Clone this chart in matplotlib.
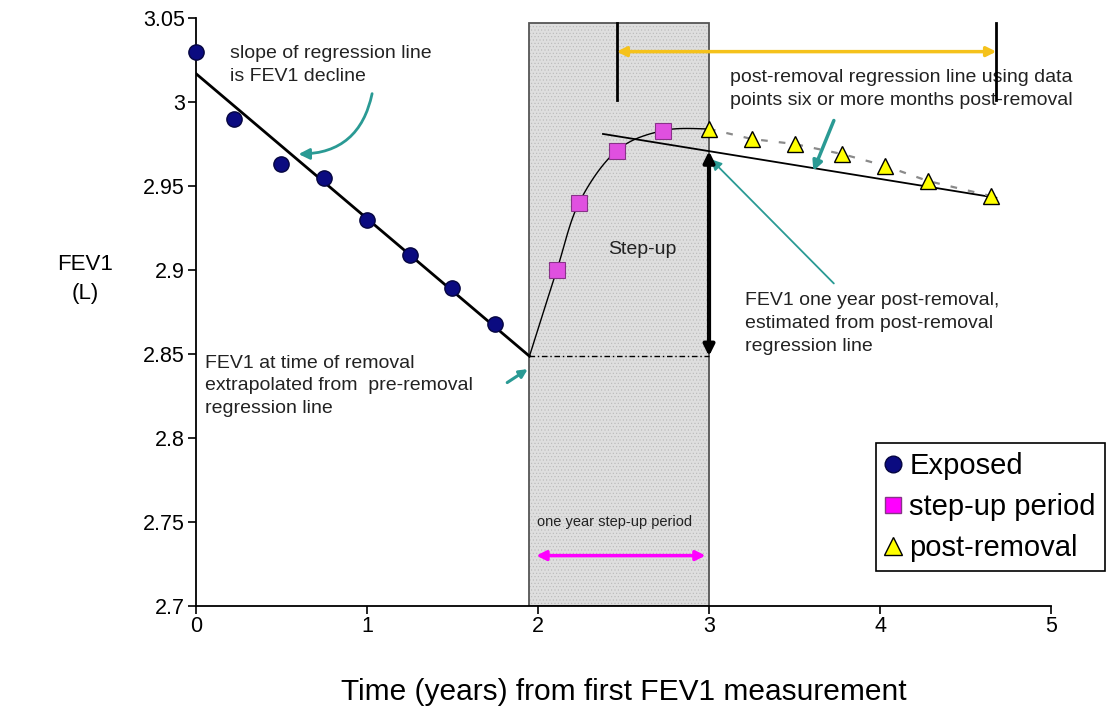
import matplotlib
matplotlib.use('Agg')
import matplotlib.pyplot as plt
from matplotlib.patches import Rectangle
from matplotlib.lines import Line2D
import numpy as np

plt.rcParams['font.family'] = ['Liberation Sans', 'DejaVu Sans']
plt.rcParams['hatch.linewidth'] = 0.4

# Data
exposed_t = [0.0, 0.22, 0.5, 0.75, 1.0, 1.25, 1.5, 1.75]
exposed_fev1 = [3.030, 2.990, 2.963, 2.955, 2.930, 2.909, 2.889, 2.868]

stepup_t = [2.11, 2.24, 2.46, 2.73]
stepup_fev1 = [2.900, 2.940, 2.971, 2.983]

post_t = [3.0, 3.25, 3.5, 3.78, 4.03, 4.28, 4.65]
post_fev1 = [2.984, 2.978, 2.975, 2.969, 2.962, 2.953, 2.944]

removal_t = 1.95
stepup_end_t = 3.0
box_top = 3.047

post_reg_t = [2.38, 4.68]
post_reg_fev1 = [2.981, 2.943]

followup_t = [2.46, 4.68]
followup_fev1 = 3.03
bracket_fev1 = [3.001, 3.047]

stepup_arrow_t = [1.99, 2.98]
stepup_arrow_fev1 = 2.73

x_ticks = [0, 1, 2, 3, 4, 5]
y_ticks = [2.7, 2.75, 2.8, 2.85, 2.9, 2.95, 3.0, 3.05]
y_ticklabels = ['2.7', '2.75', '2.8', '2.85', '2.9', '2.95', '3', '3.05']

teal = '#2a9a94'
pink = '#e050e0'


def smooth(xs, ys, n=25):
    # catmull-rom through the points, like excel's smoothed line
    p = np.column_stack([xs, ys])
    p = np.vstack([p[0], p, p[-1]])
    out = []
    for i in range(1, len(p) - 2):
        p0, p1, p2, p3 = p[i - 1], p[i], p[i + 1], p[i + 2]
        for s in np.linspace(0, 1, n, endpoint=False):
            out.append(0.5 * (2 * p1 + (-p0 + p2) * s
                              + (2 * p0 - 5 * p1 + 4 * p2 - p3) * s ** 2
                              + (-p0 + 3 * p1 - 3 * p2 + p3) * s ** 3))
    out.append(p[-2])
    out = np.array(out)
    return out[:, 0], out[:, 1]


fig = plt.figure(figsize=(11.06, 7.21), dpi=100)
ax = fig.add_axes([0.1772, 0.1595, 0.7731, 0.8155])
ax.set_xlim(0, 5)
ax.set_ylim(2.7, 3.05)

# step-up period box
ax.add_patch(Rectangle((removal_t, 2.7), stepup_end_t - removal_t, box_top - 2.7,
                       facecolor='#dedede', edgecolor='#b8b8b8', hatch='.....',
                       lw=0, zorder=0))
ax.add_patch(Rectangle((removal_t, 2.7), stepup_end_t - removal_t, box_top - 2.7,
                       facecolor='none', edgecolor='#555555', lw=1.3, zorder=1))

# pre-removal regression
coef = np.polyfit(exposed_t, exposed_fev1, 1)
fev1_at_removal = np.polyval(coef, removal_t)
ax.plot([0, removal_t], np.polyval(coef, [0, removal_t]), color='black', lw=2, zorder=3)

# step-up curve
cx, cy = smooth([removal_t] + stepup_t + [post_t[0]],
                [fev1_at_removal] + stepup_fev1 + [post_fev1[0]])
ax.plot(cx, cy, color='black', lw=1, zorder=3)

# post-removal regression and trend through triangles
ax.plot(post_reg_t, post_reg_fev1, color='black', lw=1.3, zorder=3)
ax.plot(post_t, post_fev1, color='#8a8a8a', lw=1.6, ls=(0, (3, 5)), zorder=3)

# horizontal reference at removal FEV1
ax.plot([removal_t, stepup_end_t], [fev1_at_removal, fev1_at_removal],
        color='black', lw=1, ls=(0, (4, 2, 1, 2)), zorder=3)

# step-up arrow
post_at_end = np.interp(stepup_end_t, post_reg_t, post_reg_fev1)
ax.annotate('', xy=(stepup_end_t, fev1_at_removal), xytext=(stepup_end_t, post_at_end),
            arrowprops=dict(arrowstyle='<|-|>', lw=3, color='black',
                            mutation_scale=16, shrinkA=0, shrinkB=0), zorder=4)

# yellow follow-up bracket
for t in followup_t:
    ax.plot([t, t], bracket_fev1, color='black', lw=2, clip_on=False, zorder=4)
ax.annotate('', xy=(followup_t[0], followup_fev1), xytext=(followup_t[1], followup_fev1),
            arrowprops=dict(arrowstyle='<|-|>', lw=2.5, color='#f5c21b',
                            mutation_scale=14, shrinkA=0, shrinkB=0),
            annotation_clip=False, zorder=4)

# magenta one-year arrow
ax.annotate('', xy=(stepup_arrow_t[0], stepup_arrow_fev1),
            xytext=(stepup_arrow_t[1], stepup_arrow_fev1),
            arrowprops=dict(arrowstyle='<|-|>', lw=2.5, color='#ff00ff',
                            mutation_scale=14, shrinkA=0, shrinkB=0), zorder=4)

# markers
ax.plot(exposed_t, exposed_fev1, 'o', ms=11, mfc='#0b0b80', mec='#050540',
        mew=1, ls='none', clip_on=False, zorder=5)
ax.plot(stepup_t, stepup_fev1, 's', ms=11, mfc=pink, mec='#883388',
        mew=0.8, ls='none', zorder=5)
ax.plot(post_t, post_fev1, '^', ms=12, mfc='#ffff00', mec='black',
        mew=1, ls='none', zorder=5)

# teal pointers
ax.annotate('', xy=(0.60, 2.969), xytext=(1.03, 3.005),
            arrowprops=dict(arrowstyle='-|>', lw=2, color=teal, mutation_scale=16,
                            connectionstyle='arc3,rad=-0.4', shrinkA=0, shrinkB=0))
ax.annotate('', xy=(1.94, 2.841), xytext=(1.82, 2.833),
            arrowprops=dict(arrowstyle='-|>', lw=2.2, color=teal, mutation_scale=12,
                            shrinkA=0, shrinkB=0))
ax.annotate('', xy=(3.01, 2.966), xytext=(3.73, 2.892),
            arrowprops=dict(arrowstyle='-|>', lw=1.3, color=teal, mutation_scale=16,
                            shrinkA=0, shrinkB=0))
ax.annotate('', xy=(3.61, 2.959), xytext=(3.73, 2.989),
            arrowprops=dict(arrowstyle='-|>', lw=2.5, color=teal, mutation_scale=14,
                            shrinkA=0, shrinkB=0))

# text notes
note = dict(fontsize=14, color='#222222', linespacing=1.45)
ax.text(0.20, 3.022, 'slope of regression line\nis FEV1 decline', ha='left', va='center', **note)
ax.text(3.12, 3.008, 'post-removal regression line using data\npoints six or more months post-removal',
        ha='left', va='center', **note)
ax.text(2.61, 2.912, 'Step-up', ha='center', va='center', **note)
ax.text(3.21, 2.868, 'FEV1 one year post-removal,\nestimated from post-removal\nregression line',
        ha='left', va='center', **note)
ax.text(0.05, 2.831, 'FEV1 at time of removal\nextrapolated from  pre-removal\nregression line',
        ha='left', va='center', **note)
ax.text(2.45, 2.750, 'one year step-up period', ha='center', va='center',
        fontsize=10.5, color='#222222')

# axes styling
for side in ['top', 'right']:
    ax.spines[side].set_visible(False)
ax.spines['left'].set_linewidth(1.3)
ax.spines['bottom'].set_linewidth(1.3)
ax.set_xticks(x_ticks)
ax.set_yticks(y_ticks)
ax.set_yticklabels(y_ticklabels)
ax.tick_params(direction='out', length=6, width=1.2, labelsize=15.5, pad=2)
ax.tick_params(axis='x', pad=1)

ax.set_xlabel('Time (years) from first FEV1 measurement', fontsize=21.5)
ax.xaxis.set_label_coords(0.5, -0.146)
ax.xaxis.label.set_va('center')
fig.text(85 / 1106, 1 - 279 / 721, 'FEV1\n(L)', ha='center', va='center',
         fontsize=16, linespacing=1.5)

handles = [
    Line2D([], [], marker='o', ls='none', ms=12, mfc='#0b0b80', mec='#050540'),
    Line2D([], [], marker='s', ls='none', ms=12, mfc='#ff00ff', mec='#883388'),
    Line2D([], [], marker='^', ls='none', ms=13, mfc='#ffff00', mec='black'),
]
leg = fig.legend(handles, ['Exposed', 'step-up period', 'post-removal'],
                 loc='upper left', bbox_to_anchor=(0.792, 0.3856), fontsize=21,
                 frameon=True, fancybox=False, framealpha=1, edgecolor='black',
                 handlelength=0.6, handletextpad=0.25, labelspacing=0.45,
                 borderpad=0.3, borderaxespad=0)
leg.get_frame().set_linewidth(1.2)

fig.savefig('out.png', dpi=100)
